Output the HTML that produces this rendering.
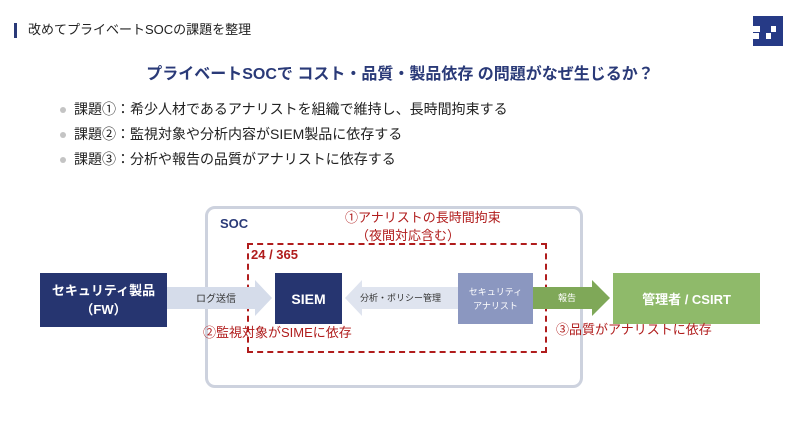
<!DOCTYPE html>
<html><head><meta charset="utf-8"><style>
body{margin:0;width:800px;height:423px;background:#fff;position:relative;overflow:hidden;font-family:"Liberation Sans","Noto Sans CJK JP",sans-serif}
.a{position:absolute;white-space:nowrap}
.box{position:absolute;display:flex;align-items:center;justify-content:center;text-align:center;color:#fff;font-weight:bold}
.red{color:#b01c1c;font-size:13px;line-height:15px}
.b{height:25px;line-height:25px}
.d{display:inline-block;width:6px;height:6px;border-radius:3px;background:#c4c4c4;margin-right:8px;vertical-align:middle}
</style></head><body>
<div class="a" style="left:14px;top:23px;width:3px;height:15px;background:#2a3a78"></div>
<div class="a" style="left:28px;top:21px;font-size:13px;line-height:18px;color:#222">改めてプライベートSOCの課題を整理</div>
<svg class="a" style="left:753px;top:16px" width="30" height="30" viewBox="0 0 30 30">
<rect width="30" height="30" fill="#263a86"/>
<rect x="0" y="10" width="7" height="6" fill="#fff"/>
<rect x="18" y="10" width="5" height="6" fill="#fff"/>
<rect x="0" y="17" width="6" height="6" fill="#fff"/>
<rect x="13" y="17" width="5" height="6" fill="#fff"/>
</svg>
<div class="a" style="left:0;width:800px;text-align:center;top:64px;font-size:16px;line-height:22px;font-weight:bold;color:#2a3a78">プライベートSOCで コスト・品質・製品依存 の問題がなぜ生じるか？</div>
<div class="a" style="left:60px;top:97px;font-size:14px;color:#222">
<div class="b"><span class="d"></span>課題①：希少人材であるアナリストを組織で維持し、長時間拘束する</div>
<div class="b"><span class="d"></span>課題②：監視対象や分析内容がSIEM製品に依存する</div>
<div class="b"><span class="d"></span>課題③：分析や報告の品質がアナリストに依存する</div>
</div>
<div class="a" style="left:205px;top:206px;width:372px;height:176px;border:3px solid #cdd2de;border-radius:10px"></div>
<div class="a" style="left:220px;top:216px;font-size:13px;font-weight:bold;color:#2a3a78">SOC</div>
<div class="a" style="left:247px;top:243px;width:296px;height:106px;border:2px dashed #b01c1c"></div>
<svg class="a" style="left:0;top:0" width="800" height="423">
<polygon points="167,287 255,287 255,280 272,298 255,316 255,309 167,309" fill="#d5dcea"/>
<polygon points="458,287 362,287 362,280 345,298 362,316 362,309 458,309" fill="#dfe4ef"/>
<polygon points="533,287 592,287 592,280 610,298 592,316 592,309 533,309" fill="#7fa858"/>
</svg>
<div class="a" style="left:196px;top:290px;font-size:10px;color:#333">ログ送信</div>
<div class="a" style="left:360px;top:291px;font-size:9px;color:#333">分析・ポリシー管理</div>
<div class="a" style="left:558px;top:291px;font-size:9px;color:#fff">報告</div>
<div class="box" style="left:40px;top:273px;width:127px;height:54px;background:#263570;font-size:13px;line-height:19px">セキュリティ製品<br>（FW）</div>
<div class="box" style="left:275px;top:273px;width:67px;height:51px;background:#263570;font-size:14px">SIEM</div>
<div class="box" style="left:458px;top:273px;width:75px;height:51px;background:#8b97c0;font-size:9px;font-weight:normal;line-height:14px">セキュリティ<br>アナリスト</div>
<div class="box" style="left:613px;top:273px;width:147px;height:51px;background:#8fba6a;font-size:13px">管理者 / CSIRT</div>
<div class="a red" style="left:345px;top:210px">①アナリストの長時間拘束</div>
<div class="a red" style="left:356px;top:228px">（夜間対応含む）</div>
<div class="a red" style="left:251px;top:247px;font-weight:bold">24 / 365</div>
<div class="a red" style="left:203px;top:325px">②監視対象がSIMEに依存</div>
<div class="a red" style="left:556px;top:322px">③品質がアナリストに依存</div>
</body></html>
